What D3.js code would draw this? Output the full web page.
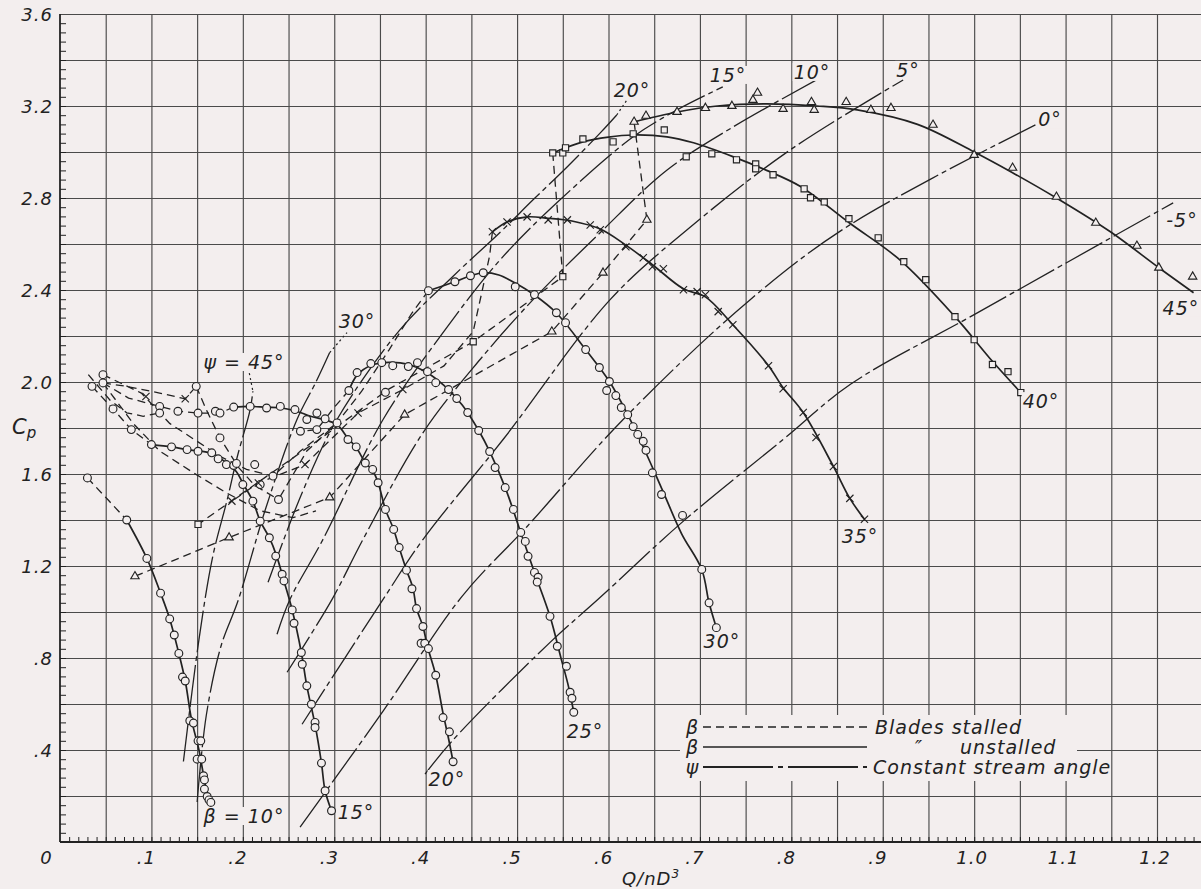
<!DOCTYPE html>
<html><head><meta charset="utf-8">
<script src="https://cdn.jsdelivr.net/npm/d3@7"></script>
<style>
html,body{margin:0;padding:0;background:#f3eeee;}
svg{display:block;}
text{font-family:"DejaVu Sans",sans-serif;font-style:italic;font-weight:200;fill:#222;}
</style></head><body>
<svg id="chart" width="1201" height="889"></svg>
<script>
// ---------- axis ticks ----------
const xTickValues = [0.1,0.2,0.3,0.4,0.5,0.6,0.7,0.8,0.9,1.0,1.1,1.2];
const xTickLabels = [".1",".2",".3",".4",".5",".6",".7",".8",".9","1.0","1.1","1.2"];
const yTickValues = [0.4,0.8,1.2,1.6,2.0,2.4,2.8,3.2,3.6];
const yTickLabels = [".4",".8","1.2","1.6","2.0","2.4","2.8","3.2","3.6"];

// ---------- blade angle beta curves (Q/nD^3, Cp) ----------
const beta10Curve = [[0.073,1.40],[0.095,1.233],[0.110,1.082],[0.120,0.97],[0.130,0.82],[0.137,0.70],[0.144,0.53],[0.152,0.40],[0.157,0.29],[0.161,0.21],[0.165,0.172]];
const beta10Marks = [[0.030,1.583],[0.073,1.40],[0.095,1.233],[0.110,1.082],[0.120,0.970],[0.125,0.900],[0.130,0.820],[0.134,0.717],[0.137,0.700],[0.142,0.527],[0.146,0.517],[0.151,0.440],[0.154,0.440],[0.150,0.360],[0.155,0.360],[0.157,0.288],[0.158,0.270],[0.158,0.230],[0.161,0.198],[0.163,0.183],[0.165,0.172]];
const beta10Stall = [[0.030,1.583],[0.052,1.49],[0.073,1.40]];

const beta15Curve = [[0.100,1.728],[0.122,1.718],[0.139,1.706],[0.166,1.690],[0.182,1.648],[0.193,1.610],[0.200,1.560],[0.211,1.482],[0.219,1.395],[0.229,1.323],[0.237,1.243],[0.245,1.135],[0.254,1.009],[0.264,0.824],[0.270,0.679],[0.279,0.510],[0.286,0.343],[0.290,0.223],[0.297,0.136]];
const beta15Marks = [[0.035,1.981],[0.058,1.883],[0.078,1.793],[0.100,1.728],[0.122,1.718],[0.139,1.706],[0.151,1.699],[0.166,1.692],[0.173,1.666],[0.182,1.641],[0.190,1.637],[0.193,1.646],[0.200,1.554],[0.211,1.482],[0.219,1.395],[0.229,1.323],[0.236,1.243],[0.243,1.164],[0.245,1.135],[0.254,1.009],[0.256,0.951],[0.264,0.824],[0.265,0.773],[0.270,0.679],[0.275,0.599],[0.279,0.520],[0.279,0.498],[0.286,0.343],[0.290,0.223],[0.297,0.136]];
const beta15Stall = [[0.035,1.981],[0.058,1.883],[0.078,1.793],[0.100,1.728]];

const beta20Curve = [[0.190,1.891],[0.208,1.894],[0.226,1.890],[0.241,1.888],[0.257,1.875],[0.275,1.850],[0.290,1.835],[0.303,1.815],[0.315,1.755],[0.324,1.715],[0.334,1.650],[0.342,1.615],[0.348,1.562],[0.356,1.446],[0.365,1.359],[0.371,1.280],[0.379,1.182],[0.386,1.105],[0.390,1.015],[0.397,0.937],[0.402,0.850],[0.411,0.725],[0.419,0.560],[0.425,0.450],[0.430,0.349]];
const beta20Marks = [[0.109,1.894],[0.109,1.865],[0.129,1.873],[0.151,1.865],[0.170,1.873],[0.175,1.865],[0.190,1.891],[0.208,1.894],[0.226,1.887],[0.241,1.894],[0.257,1.880],[0.270,1.837],[0.281,1.865],[0.290,1.840],[0.303,1.822],[0.315,1.750],[0.324,1.718],[0.334,1.648],[0.342,1.620],[0.348,1.562],[0.356,1.446],[0.365,1.359],[0.371,1.280],[0.379,1.182],[0.385,1.101],[0.390,1.015],[0.397,0.937],[0.395,0.864],[0.399,0.864],[0.403,0.841],[0.411,0.725],[0.419,0.541],[0.426,0.479],[0.430,0.349]];
const beta20Stall = [[0.047,1.996],[0.075,1.930],[0.109,1.894],[0.129,1.873],[0.151,1.865],[0.175,1.865],[0.190,1.891]];

const beta25Curve = [[0.316,1.963],[0.325,2.030],[0.340,2.072],[0.360,2.085],[0.380,2.078],[0.400,2.045],[0.420,1.985],[0.440,1.900],[0.458,1.789],[0.470,1.698],[0.487,1.541],[0.504,1.346],[0.519,1.172],[0.536,0.981],[0.548,0.800],[0.556,0.680],[0.562,0.564]];
const beta25Marks = [[0.316,1.963],[0.325,2.041],[0.340,2.080],[0.352,2.084],[0.364,2.071],[0.381,2.067],[0.391,2.084],[0.402,2.045],[0.411,1.997],[0.425,1.967],[0.434,1.928],[0.446,1.867],[0.458,1.789],[0.470,1.698],[0.476,1.628],[0.487,1.541],[0.496,1.446],[0.504,1.346],[0.509,1.307],[0.512,1.242],[0.519,1.172],[0.523,1.151],[0.522,1.130],[0.536,0.981],[0.544,0.851],[0.554,0.764],[0.558,0.651],[0.560,0.625],[0.562,0.564]];
const beta25Stall = [[0.316,1.963],[0.300,1.890],[0.281,1.793],[0.263,1.786]];

const beta30Curve = [[0.403,2.397],[0.432,2.436],[0.449,2.462],[0.463,2.475],[0.480,2.465],[0.498,2.430],[0.519,2.378],[0.543,2.300],[0.575,2.141],[0.601,2.002],[0.621,1.858],[0.640,1.700],[0.659,1.530],[0.680,1.340],[0.702,1.185],[0.710,1.040],[0.718,0.932]];
const beta30Marks = [[0.403,2.397],[0.432,2.436],[0.449,2.462],[0.463,2.475],[0.498,2.414],[0.519,2.380],[0.543,2.301],[0.553,2.258],[0.575,2.141],[0.590,2.063],[0.601,2.002],[0.598,1.963],[0.608,1.941],[0.614,1.889],[0.621,1.858],[0.627,1.806],[0.632,1.772],[0.638,1.742],[0.641,1.703],[0.648,1.605],[0.658,1.511],[0.681,1.420],[0.702,1.185],[0.710,1.040],[0.718,0.932]];
const beta30Stall = [[0.403,2.397],[0.385,2.300],[0.360,2.140],[0.330,1.960],[0.303,1.822],[0.270,1.700],[0.239,1.489]];

const beta35Curve = [[0.473,2.653],[0.489,2.696],[0.511,2.718],[0.534,2.712],[0.560,2.700],[0.591,2.665],[0.619,2.595],[0.648,2.510],[0.682,2.405],[0.706,2.370],[0.736,2.249],[0.775,2.071],[0.791,1.975],[0.813,1.867],[0.846,1.633],[0.864,1.494],[0.880,1.403]];
const beta35Marks = [[0.473,2.653],[0.489,2.696],[0.511,2.718],[0.534,2.705],[0.555,2.705],[0.580,2.683],[0.591,2.662],[0.619,2.588],[0.638,2.540],[0.648,2.501],[0.660,2.492],[0.682,2.401],[0.697,2.393],[0.706,2.379],[0.720,2.306],[0.736,2.249],[0.775,2.071],[0.791,1.971],[0.813,1.867],[0.827,1.759],[0.846,1.633],[0.864,1.494],[0.880,1.403],[0.375,1.967],[0.326,1.865],[0.268,1.641],[0.217,1.561],[0.188,1.482],[0.094,1.937],[0.137,1.927]];
const beta35Stall = [[0.473,2.653],[0.470,2.550],[0.462,2.400],[0.452,2.220],[0.420,2.070],[0.375,1.967],[0.326,1.865],[0.268,1.641],[0.217,1.561],[0.188,1.482]];

const beta40Curve = [[0.539,2.996],[0.572,3.044],[0.600,3.065],[0.627,3.074],[0.664,3.066],[0.693,3.040],[0.736,2.980],[0.773,2.920],[0.810,2.850],[0.864,2.690],[0.919,2.530],[0.979,2.284],[1.020,2.090],[1.051,1.954]];
const beta40Marks = [[0.539,2.996],[0.550,2.996],[0.553,3.018],[0.572,3.057],[0.605,3.044],[0.627,3.079],[0.661,3.096],[0.685,2.979],[0.713,2.992],[0.740,2.966],[0.761,2.948],[0.761,2.927],[0.780,2.901],[0.814,2.840],[0.821,2.801],[0.836,2.783],[0.863,2.710],[0.895,2.627],[0.923,2.523],[0.947,2.445],[0.979,2.284],[1.000,2.184],[1.020,2.076],[1.037,2.045],[1.051,1.954],[0.550,2.458],[0.452,2.175],[0.151,1.381]];
const beta40Stall = [[0.539,2.996],[0.550,2.458],[0.452,2.175],[0.360,1.970],[0.280,1.740],[0.151,1.381]];

const beta45Curve = [[0.627,3.130],[0.675,3.174],[0.719,3.200],[0.773,3.209],[0.828,3.200],[0.872,3.183],[0.938,3.120],[1.000,3.000],[1.042,2.910],[1.090,2.800],[1.149,2.653],[1.202,2.497],[1.240,2.388]];
const beta45Marks = [[0.628,3.131],[0.641,3.157],[0.675,3.174],[0.706,3.191],[0.735,3.200],[0.758,3.226],[0.763,3.257],[0.791,3.187],[0.822,3.217],[0.825,3.183],[0.860,3.217],[0.887,3.183],[0.909,3.191],[0.955,3.118],[1.000,2.987],[1.042,2.931],[1.090,2.805],[1.133,2.692],[1.178,2.592],[1.202,2.497],[1.239,2.458],[0.642,2.705],[0.594,2.475],[0.538,2.219],[0.377,1.858],[0.295,1.498],[0.185,1.324],[0.082,1.155]];
const beta45Stall = [[0.628,3.131],[0.642,2.705],[0.594,2.475],[0.538,2.219],[0.377,1.858],[0.295,1.498],[0.185,1.324],[0.082,1.155]];

// extra stalled branches in the low-flow tangle
const tangleA = [[0.031,2.032],[0.055,1.920],[0.073,1.866],[0.091,1.851],[0.109,1.865]];
const tangleB = [[0.047,1.996],[0.073,1.981],[0.109,1.952],[0.137,1.927],[0.149,1.981]];
const tangleC = [[0.149,1.981],[0.160,1.880],[0.175,1.757],[0.195,1.630],[0.213,1.550],[0.239,1.489]];
const tangleD = [[0.047,1.996],[0.080,1.820],[0.109,1.700],[0.146,1.605],[0.182,1.518],[0.219,1.440],[0.255,1.410],[0.280,1.440]];
const tangleE = [[0.047,2.032],[0.089,1.952],[0.120,1.820],[0.175,1.677],[0.204,1.620],[0.233,1.591],[0.263,1.700],[0.303,1.822]];
const tangleCircles = [[0.047,2.032],[0.047,1.996],[0.149,1.981],[0.175,1.757],[0.213,1.641],[0.233,1.591],[0.239,1.489],[0.219,1.554],[0.263,1.786],[0.281,1.793],[0.356,1.955]];

// ---------- constant stream angle psi lines ----------
const psi45 = [[0.135,0.35],[0.152,0.88],[0.167,1.24],[0.183,1.49],[0.194,1.676],[0.208,1.88],[0.211,1.96]];
const psi30 = [[0.150,0.174],[0.160,0.55],[0.176,0.85],[0.195,1.052],[0.225,1.45],[0.259,1.835],[0.280,2.00],[0.295,2.128]];
const psi20 = [[0.2276,1.129],[0.265,1.52],[0.303,1.837],[0.372,2.228],[0.430,2.46],[0.481,2.649],[0.5175,2.792],[0.5547,2.935],[0.591,3.083],[0.609,3.161]];
const psi15 = [[0.2374,0.903],[0.2516,1.055],[0.2877,1.316],[0.3534,1.837],[0.420,2.22],[0.4814,2.531],[0.547,2.792],[0.627,3.066],[0.675,3.183],[0.725,3.283]];
const psi10 = [[0.2484,0.738],[0.2976,1.055],[0.3315,1.316],[0.3972,1.780],[0.460,2.10],[0.5175,2.358],[0.5908,2.649],[0.6641,2.922],[0.7363,3.109],[0.8315,3.322]];
const psi5 = [[0.2648,0.512],[0.3534,1.055],[0.3972,1.316],[0.4847,1.750],[0.6018,2.358],[0.686,2.662],[0.7987,3.009],[0.9223,3.313]];
const psi0 = [[0.2626,0.065],[0.3534,0.569],[0.4398,1.068],[0.511,1.372],[0.616,1.837],[0.755,2.358],[0.864,2.683],[1.067,3.118]];
const psiM5 = [[0.3993,0.295],[0.4289,0.439],[0.5361,0.868],[0.5886,1.055],[0.6816,1.394],[0.791,1.750],[0.8643,1.989],[1.0,2.293],[1.2177,2.779]];
const leader45 = [[0.206,2.060],[0.211,1.960]];
const leader30 = [[0.295,2.128],[0.314,2.215]];
const leader20 = [[0.609,3.161],[0.620,3.225]];

// ---------- annotations ----------
const betaLabelText = ["β = 10°","15°","20°","25°","30°","35°","40°","45°"];
const betaLabelQ = [0.2013,0.3238,0.4233,0.5743,0.7241,0.8751,1.0731,1.2262];
const betaLabelCp = [0.113,0.130,0.274,0.483,0.874,1.330,1.917,2.322];
const psiLabelText = ["ψ = 45°","30°","20°","15°","10°","5°","0°","-5°"];
const psiLabelQ = [0.2013,0.3249,0.6257,0.7307,0.8226,0.9276,1.0829,1.2273];
const psiLabelCp = [2.087,2.265,3.270,3.335,3.348,3.357,3.143,2.704];
const legendSymbols = ["β","β","ψ"];
const legendTexts = ["Blades stalled","unstalled","Constant stream angle"];

// ---------- drawing ----------
const BG = "#f3eeee", INK = "#222", GRID = "#4a4a4a";
const W = 1201;
const svg = d3.select("#chart");
svg.append("rect").attr("width",W).attr("height",889).attr("fill",BG);
const x = d3.scaleLinear().domain([0,1.2]).range([60,1157]);
const y = d3.scaleLinear().domain([0,3.6]).range([842,14]);

const xGrid = d3.range(1,25).map(i=>+(i*0.05).toFixed(2));
const yGrid = d3.range(1,19).map(i=>+(i*0.2).toFixed(2));
const xMinor = d3.range(1,125).map(i=>+(i*0.01).toFixed(2));
const yMinor = d3.range(1,90).map(i=>+(i*0.04).toFixed(2));

// vertical grid
svg.append("g").attr("transform",`translate(0,${y(0)})`)
  .call(d3.axisBottom(x).tickValues(xGrid).tickSize(-(y(0)-y(3.6))).tickFormat(""))
  .call(g=>g.select(".domain").remove())
  .selectAll("line").attr("stroke",GRID).attr("stroke-width",1.15);
// horizontal grid
svg.append("g").attr("transform",`translate(${x(0)},0)`)
  .call(d3.axisLeft(y).tickValues(yGrid).tickSize(-(W-x(0))).tickFormat(""))
  .call(g=>g.select(".domain").remove())
  .selectAll("line").attr("stroke",GRID).attr("stroke-width",1.15);
// minor ticks
svg.append("g").attr("transform",`translate(0,${y(0)})`)
  .call(d3.axisBottom(x).tickValues(xMinor).tickSize(-5).tickFormat(""))
  .call(g=>g.select(".domain").remove())
  .selectAll("line").attr("stroke",INK).attr("stroke-width",1);
svg.append("g").attr("transform",`translate(${x(0)},0)`)
  .call(d3.axisLeft(y).tickValues(yMinor).tickSize(-6).tickFormat(""))
  .call(g=>g.select(".domain").remove())
  .selectAll("line").attr("stroke",INK).attr("stroke-width",1);
// axis lines
svg.append("line").attr("x1",x(0)).attr("x2",W).attr("y1",y(0)).attr("y2",y(0)).attr("stroke",INK).attr("stroke-width",1.8);
svg.append("line").attr("x1",x(0)).attr("x2",x(0)).attr("y1",y(3.6)).attr("y2",y(0)).attr("stroke",INK).attr("stroke-width",1.8);

// tick labels
svg.append("g").selectAll("text").data(xTickValues).join("text")
  .attr("x",(d)=>x(d)-(d<1?5:2)).attr("y",y(0)+22)
  .attr("text-anchor","middle").attr("font-size",18).attr("letter-spacing",1)
  .text((d,i)=>xTickLabels[i]);
svg.append("text").attr("x",x(0)-14).attr("y",y(0)+22).attr("text-anchor","middle").attr("font-size",18).text("0");
svg.append("g").selectAll("text").data(yTickValues).join("text")
  .attr("x",x(0)-7).attr("y",d=>y(d)+7)
  .attr("text-anchor","end").attr("font-size",18).attr("letter-spacing",1)
  .text((d,i)=>yTickLabels[i]);
// axis titles
const cp = svg.append("text").attr("x",12).attr("y",434).attr("font-size",21);
cp.append("tspan").text("C");
cp.append("tspan").attr("font-size",15).attr("dy",4).text("p");
const qt = svg.append("text").attr("x",651).attr("y",885).attr("text-anchor","middle").attr("font-size",18).attr("letter-spacing",1);
qt.append("tspan").text("Q/nD");
qt.append("tspan").attr("font-size",12).attr("dy",-7).text("3");

const line = d3.line().x(d=>x(d[0])).y(d=>y(d[1]));
const smooth = d3.line().x(d=>x(d[0])).y(d=>y(d[1])).curve(d3.curveCatmullRom.alpha(0.5));

// psi lines
const psiLines = [psi45,psi30,psi20,psi15,psi10,psi5,psi0,psiM5];
svg.append("g").selectAll("path").data(psiLines).join("path")
  .attr("d",smooth).attr("fill","none").attr("stroke",INK).attr("stroke-width",1.3)
  .attr("stroke-dasharray","42,4,5,4");
svg.append("g").selectAll("path").data([leader45,leader30,leader20]).join("path")
  .attr("d",line).attr("fill","none").attr("stroke",INK).attr("stroke-width",1.2)
  .attr("stroke-dasharray","2,3");

// stalled lines
const stallLines = [beta10Stall,beta15Stall,beta20Stall,beta25Stall,beta30Stall,beta35Stall,beta40Stall,beta45Stall,tangleA,tangleB,tangleC,tangleD,tangleE];
svg.append("g").selectAll("path").data(stallLines).join("path")
  .attr("d",line).attr("fill","none").attr("stroke",INK).attr("stroke-width",1.3)
  .attr("stroke-dasharray","8,5");

// unstalled curves
const betaCurves = [beta10Curve,beta15Curve,beta20Curve,beta25Curve,beta30Curve,beta35Curve,beta40Curve,beta45Curve];
svg.append("g").selectAll("path").data(betaCurves).join("path")
  .attr("d",smooth).attr("fill","none").attr("stroke",INK).attr("stroke-width",1.7);

// markers
const markerSets = [
  {pts:beta10Marks,type:d3.symbolCircle,size:48},
  {pts:beta15Marks,type:d3.symbolCircle,size:48},
  {pts:beta20Marks,type:d3.symbolCircle,size:48},
  {pts:beta25Marks,type:d3.symbolCircle,size:48},
  {pts:beta30Marks,type:d3.symbolCircle,size:48},
  {pts:tangleCircles,type:d3.symbolCircle,size:48},
  {pts:beta35Marks,type:d3.symbolTimes,size:36},
  {pts:beta40Marks,type:d3.symbolSquare,size:38},
  {pts:beta45Marks,type:d3.symbolTriangle,size:30}
];
markerSets.forEach(s=>{
  const cross = s.type===d3.symbolTimes;
  svg.append("g").selectAll("path").data(s.pts).join("path")
    .attr("transform",d=>`translate(${x(d[0])},${y(d[1])})`)
    .attr("d",d3.symbol().type(s.type).size(s.size))
    .attr("fill",cross?"none":BG).attr("stroke",INK).attr("stroke-width",1.15);
});

// curve labels with paper-coloured backing
function label(g, txt, px, py){
  const t = g.append("text").attr("x",px).attr("y",py+7).attr("text-anchor","middle")
    .attr("font-size",19).attr("letter-spacing",1).text(txt);
  const b = t.node().getBBox();
  g.insert("rect","text:last-child").attr("x",b.x-1).attr("y",b.y+2).attr("width",b.width+2).attr("height",b.height-4).attr("fill",BG);
}
const lg = svg.append("g");
betaLabelText.forEach((t,i)=>{ const g=lg.append("g"); label(g,t,x(betaLabelQ[i]),y(betaLabelCp[i])); });
psiLabelText.forEach((t,i)=>{ const g=lg.append("g"); label(g,t,x(psiLabelQ[i]),y(psiLabelCp[i])); });

// legend
const leg = svg.append("g");
leg.append("rect").attr("x",680).attr("y",715).attr("width",397).attr("height",66).attr("fill",BG);
const rows = [727,747,767];
const dashes = ["8,5",null,"70,5,5,5"];
rows.forEach((ry,i)=>{
  leg.append("text").attr("x",692).attr("y",ry+7).attr("text-anchor","middle").attr("font-size",19).text(legendSymbols[i]);
  const l = leg.append("line").attr("x1",703).attr("x2",867).attr("y1",ry).attr("y2",ry)
    .attr("stroke",INK).attr("stroke-width",i===2?2:1.5);
  if(dashes[i]) l.attr("stroke-dasharray",dashes[i]);
});
leg.append("text").attr("x",875).attr("y",rows[0]+7).attr("font-size",19).attr("letter-spacing",1).text(legendTexts[0]);
leg.append("text").attr("x",915).attr("y",rows[1]+7).attr("font-size",19).text("\u2033");
leg.append("text").attr("x",960).attr("y",rows[1]+7).attr("font-size",19).attr("letter-spacing",1).text(legendTexts[1]);
leg.append("text").attr("x",873).attr("y",rows[2]+7).attr("font-size",19).attr("letter-spacing",1).text(legendTexts[2]);
</script></body></html>
